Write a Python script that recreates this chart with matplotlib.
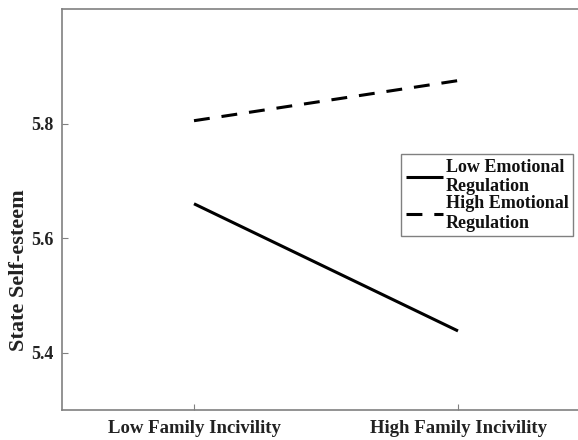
import matplotlib
matplotlib.use("Agg")
import matplotlib.pyplot as plt

categories = ["Low Family Incivility", "High Family Incivility"]
low_er = [5.66, 5.438]
high_er = [5.805, 5.875]
series_labels = ["Low Emotional\nRegulation", "High Emotional\nRegulation"]
yticks = [5.4, 5.6, 5.8]

plt.rcParams['font.family'] = ['Liberation Serif', 'DejaVu Serif']
plt.rcParams['font.weight'] = 'bold'

W, H = 578, 440
fig = plt.figure(figsize=(W/100, H/100), dpi=100)
ax = fig.add_axes([62/W, (H-410)/H, (590-62)/W, (410-9)/H])

x = [1, 2]
ax.plot(x, low_er, color='black', lw=2.2, solid_capstyle='butt', label=series_labels[0])
ax.plot(x, high_er, color='black', lw=2.2, dashes=(5.2, 3.9), dash_capstyle='butt', label=series_labels[1])

ax.set_xlim(0.5, 2.5)
ax.set_ylim(5.3, 6.0)
ax.set_xticks(x)
ax.set_xticklabels(categories, fontsize=13.5, fontweight='bold', color='#222222')
ax.set_yticks(yticks)
ax.set_yticklabels([f"{v:.1f}" for v in yticks], fontsize=13, fontweight='bold', color='#222222')
ax.tick_params(axis='both', direction='in', length=4, width=0.8, color='#808080')
ax.tick_params(axis='y', pad=6)
ax.tick_params(axis='x', pad=7)

for s in ['left', 'bottom', 'top', 'right']:
    ax.spines[s].set_color('#808080')
    ax.spines[s].set_linewidth(1.2)

ax.set_ylabel("State Self-esteem", fontsize=16, fontweight='bold', color='#222222')
ax.yaxis.set_label_coords((29-62)/528, (410-270)/401)

leg = ax.legend(loc='upper left', bbox_to_anchor=(401/W, 1-154/H), bbox_transform=fig.transFigure,
                prop={'family': 'Liberation Serif', 'weight': 'bold', 'size': 13},
                fancybox=False, frameon=True, edgecolor='#808080', framealpha=1,
                handlelength=2.1, handletextpad=0.15, borderpad=0.25, labelspacing=0.0,
                borderaxespad=0)
leg.get_frame().set_linewidth(1.0)
for t in leg.get_texts():
    t.set_color('#111111')
    t.set_linespacing(1.2)

fig.savefig("out.png", dpi=100)
